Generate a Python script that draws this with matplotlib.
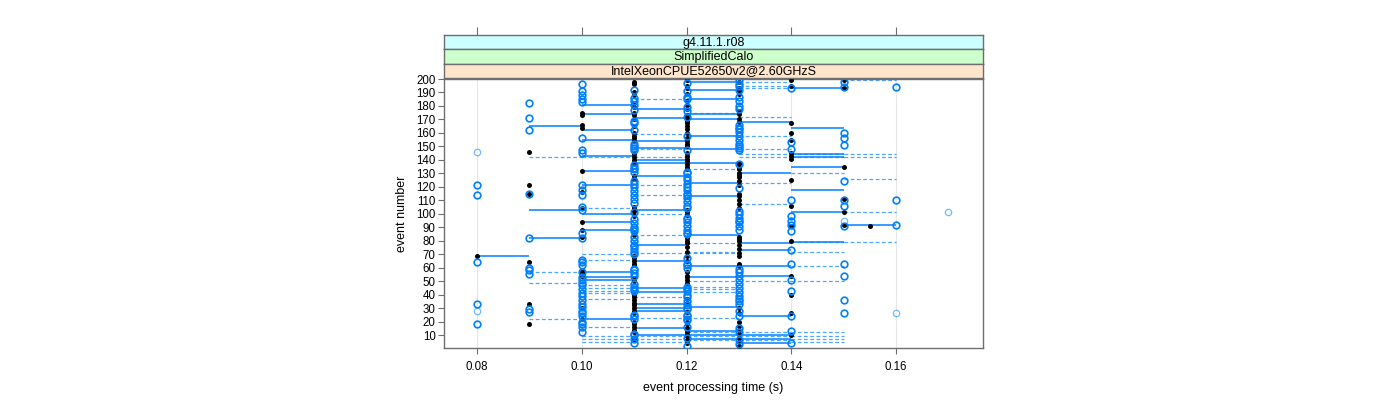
import matplotlib.pyplot as plt

plt.rcParams['font.family'] = ['Liberation Sans', 'DejaVu Sans']

# strip labels (top to bottom)
strip_labels = ["g4.11.1.r08", "SimplifiedCalo", "IntelXeonCPUE52650v2@2.60GHzS"]
strip_colors = ["#ccffff", "#ccffcc", "#ffe5cc"]

x_ticks = [0.08, 0.10, 0.12, 0.14, 0.16]
y_ticks = list(range(10, 201, 10))

# events per time column, black filled points
black_events = {
    0.08: [69],
    0.09: [146, 121, 115, 64, 33, 18],
    0.10: [175, 173, 166, 164, 132, 116, 104, 94, 88, 83, 58, 56, 54, 30, 22],
    0.11: [198, 196, 190, 188, 182, 179, 175, 173, 170, 165, 160, 158, 156, 154, 144,
           142, 140, 138, 128, 126, 105, 104, 102, 99, 98, 86, 84, 69, 67, 65, 63, 62,
           52, 50, 40, 38, 36, 34, 32, 30, 28, 26, 20, 18, 16, 14, 12, 8, 6],
    0.12: [199, 195, 193, 189, 184, 181, 178, 173, 171, 169, 167, 165, 163, 160, 156,
           154, 152, 150, 145, 143, 141, 139, 137, 135, 133, 103, 101, 99, 82, 80, 78,
           75, 72, 69, 65, 57, 54, 53, 51, 49, 37, 33, 27, 20, 18, 15, 12, 10, 9, 6, 4],
    0.13: [198, 193, 191, 189, 176, 174, 170, 168, 138, 137, 134, 133, 130, 129, 127,
           124, 121, 115, 113, 110, 107, 104, 83, 81, 80, 77, 74, 71, 69, 63, 61, 30,
           26, 20, 17, 14, 11, 8, 5, 2],
    0.14: [199, 195, 167, 160, 155, 145, 143, 141, 125, 106, 91, 80, 54, 40, 26, 10],
    0.15: [199, 193, 135, 111, 101, 92],
    0.155: [91],
}

# events per time column, blue open circles
blue_events = {
    0.08: [121, 114, 64, 33, 18],
    0.09: [182, 171, 162, 115, 82, 60, 58, 55, 29, 27],
    0.10: [196, 191, 188, 185, 183, 156, 147, 145, 121, 118, 114, 105, 103, 86, 82,
           66, 64, 62, 57, 53, 51, 49, 47, 44, 41, 39, 36, 33, 31, 28, 26, 24, 20, 18,
           16, 12],
    0.11: [192, 186, 184, 181, 177, 169, 167, 162, 152, 150, 149, 147, 136, 134, 133,
           131, 124, 122, 120, 117, 114, 111, 108, 101, 96, 93, 90, 89, 87, 83, 80, 77,
           76, 74, 72, 70, 59, 58, 56, 54, 48, 46, 44, 43, 25, 24, 22, 11, 10, 7, 4],
    0.12: [197, 191, 187, 185, 179, 176, 172, 158, 147, 131, 130, 127, 125, 122, 120,
           118, 115, 114, 112, 109, 106, 104, 97, 96, 94, 91, 88, 86, 85, 67, 63, 62,
           60, 46, 44, 43, 40, 38, 35, 32, 30, 29, 25, 24, 22, 21, 16, 8, 2],
    0.13: [199, 196, 195, 192, 187, 184, 180, 178, 166, 164, 163, 161, 158, 155, 152,
           150, 149, 147, 137, 119, 102, 100, 97, 95, 94, 91, 88, 59, 57, 54, 51, 48,
           45, 42, 39, 37, 35, 33, 28, 24, 15, 12, 6, 3],
    0.14: [193, 153, 148, 110, 98, 95, 92, 87, 73, 63, 51, 43, 24, 13, 4],
    0.15: [198, 194, 160, 156, 151, 124, 110, 106, 91, 63, 54, 36, 26],
    0.16: [194, 110, 92],
}

# fainter blue circles
blue_light = {
    0.08: [146, 28],
    0.15: [95],
    0.16: [26],
    0.17: [101],
}

# solid steps: (from time, to time) -> events
solid_runs = {
    (0.08, 0.09): [69],
    (0.09, 0.10): [165, 103, 82],
    (0.10, 0.11): [181, 174, 162, 155, 143, 132, 121, 100, 94, 88, 57, 53, 51, 22],
    (0.11, 0.12): [178, 171, 154, 149, 140, 138, 128, 103, 77, 65, 45, 42, 33, 30, 28, 15, 10],
    (0.12, 0.13): [198, 192, 185, 174, 170, 158, 148, 138, 123, 113, 84, 61, 53, 31, 13, 10, 7],
    (0.13, 0.14): [168, 130, 78, 73, 61, 54, 24, 10, 7, 4],
    (0.14, 0.15): [193, 164, 144, 142, 135, 118, 101, 79],
    (0.15, 0.16): [92],
}

# dashed steps
dashed_runs = {
    (0.09, 0.10): [142, 57, 49, 22],
    (0.10, 0.11): [142, 104, 70, 66, 47, 45, 43, 41, 37, 16, 9, 7, 5],
    (0.11, 0.12): [185, 159, 148, 142, 121, 114, 100, 84, 71, 38, 23, 9, 7, 5],
    (0.12, 0.13): [175, 133, 78, 72, 71, 50, 46, 44, 42, 23, 12, 9, 6],
    (0.13, 0.14): [198, 195, 193, 172, 158, 148, 144, 142, 123, 107, 50, 12, 9, 6],
    (0.14, 0.15): [144, 142, 130, 79, 72, 61, 50, 12, 9, 7, 5],
    (0.15, 0.16): [199, 144, 142, 126, 101, 79],
}

blue = "#0080ff"
frame = "#6e6e6e"

fig = plt.figure(figsize=(14, 4), dpi=100)
ax = fig.add_axes([444 / 1400, 1 - 348 / 400, 539 / 1400, 269 / 400])

for t in x_ticks:
    ax.axvline(t, color="#e6e6e6", lw=0.8, zorder=0)

for (t0, t1), evs in dashed_runs.items():
    ax.hlines(evs, t0, t1, colors=blue, lw=0.9, linestyles=(0, (3, 2)), alpha=0.7, zorder=2)
for (t0, t1), evs in solid_runs.items():
    ax.hlines(evs, t0, t1, colors=blue, lw=1.1, zorder=3)

for t, evs in blue_light.items():
    ax.plot([t] * len(evs), evs, 'o', mfc='white', mec=blue, mew=0.9, ms=4.6, alpha=0.55, zorder=4)
for t, evs in black_events.items():
    ax.plot([t] * len(evs), evs, 'o', color='black', ms=3.6, mew=0, zorder=5)
for t, evs in blue_events.items():
    ax.plot([t] * len(evs), evs, 'o', mfc='none', mec=blue, mew=1.2, ms=4.8, zorder=6)

ax.set_xlim(0.0737, 0.1766)
ax.set_ylim(0.4, 200)
ax.set_xticks(x_ticks)
ax.set_xticklabels(["%.2f" % t for t in x_ticks])
ax.set_yticks(y_ticks)
ax.tick_params(direction='out', length=4, width=0.8, color=frame, labelsize=8.3, pad=2)
ax.tick_params(axis='x', pad=5)
for s in ax.spines.values():
    s.set_color(frame)
    s.set_linewidth(1.0)
ax.set_xlabel("event processing time (s)", fontsize=9, labelpad=7)
ax.set_ylabel("event number", fontsize=9, labelpad=6)

# stacked strips above panel
strip_h = 14.3
for i, (lab, col) in enumerate(zip(strip_labels, strip_colors)):
    top = 35 + i * strip_h
    sax = fig.add_axes([444 / 1400, 1 - (top + strip_h) / 400, 539 / 1400, strip_h / 400],
                       facecolor=col)
    sax.set_xlim(ax.get_xlim())
    sax.set_yticks([])
    if i == 0:
        sax.xaxis.tick_top()
        sax.set_xticks(x_ticks)
        sax.set_xticklabels([])
        sax.tick_params(axis='x', direction='out', length=6, width=0.8, color=frame)
    else:
        sax.set_xticks([])
    for s in sax.spines.values():
        s.set_color(frame)
        s.set_linewidth(1.0)
    sax.text(0.5, 0.45, lab, transform=sax.transAxes, ha='center', va='center', fontsize=9)

fig.savefig("out.png", dpi=100)
